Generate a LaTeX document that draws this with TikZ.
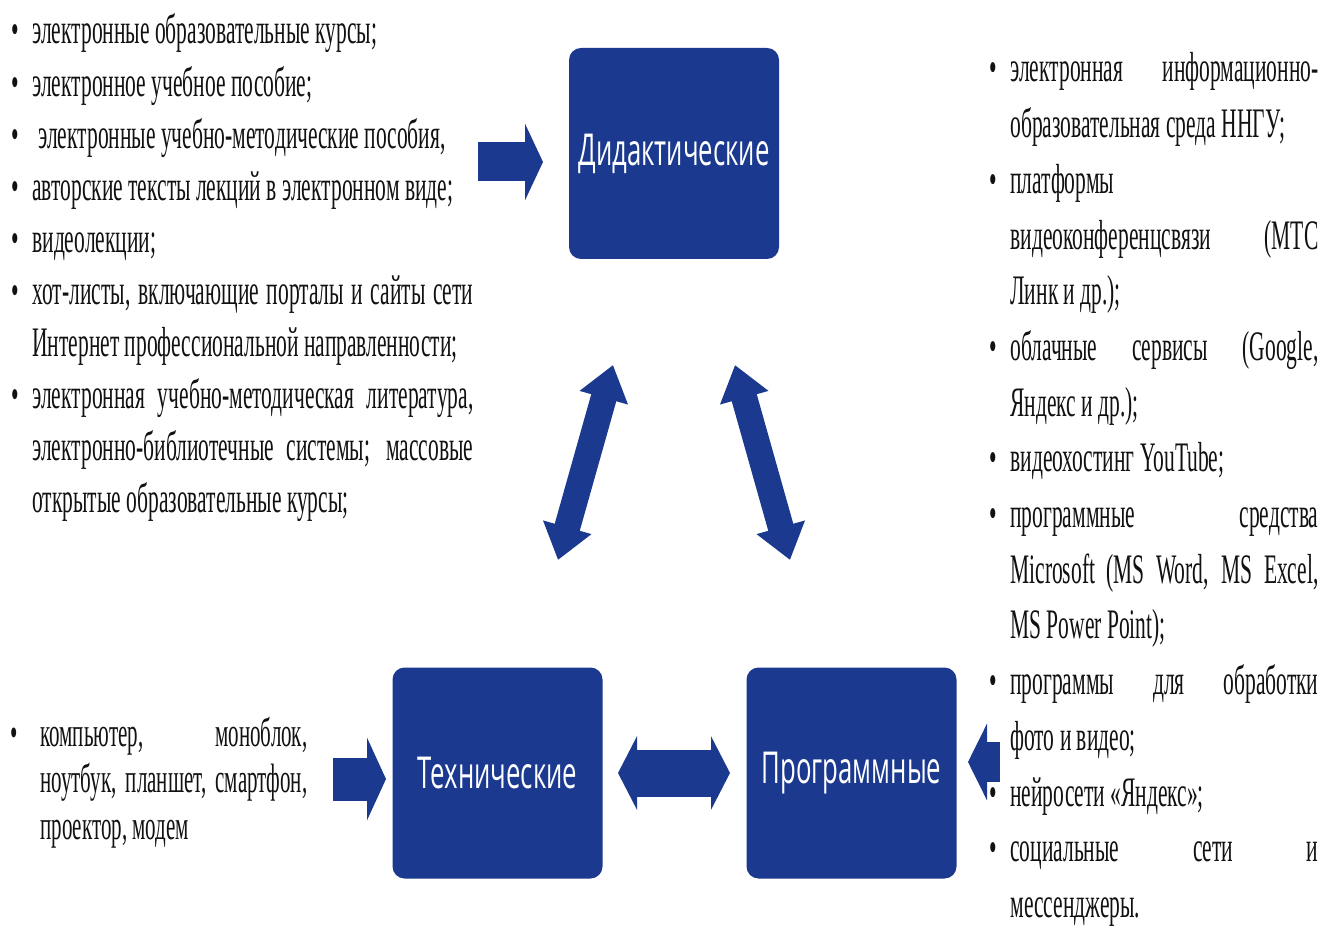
\documentclass[tikz,border=0pt]{standalone}
\usepackage{fontspec}
\setmainfont{Liberation Serif}
\newfontfamily\tnr[FakeStretch=0.512]{Liberation Serif}
\newfontfamily\boxsans[FakeStretch=0.585]{Open Sans}
\usetikzlibrary{arrows.meta}
\definecolor{boxblue}{HTML}{1B3A8F}
\definecolor{txt}{HTML}{111111}
\newcommand\bul{\leavevmode\llap{•\hspace{6.5pt}}}
\newcommand\jl[1]{\makebox[\linewidth][s]{#1}}
\begin{document}
\begin{tikzpicture}[x=0.5pt,y=-0.5pt,
  cat/.style={fill=boxblue, rounded corners=6pt, minimum width=105pt, minimum height=105.5pt,
    inner sep=0pt, text=white, font=\boxsans\fontsize{22}{26}\selectfont},
  txtblock/.style={anchor=base west, inner sep=0pt, text=txt},
  barrow/.style={draw=boxblue, line cap=butt}
]
\fill[white] (0,0) rectangle (1325,929);
\useasboundingbox (0,0) rectangle (1325,929);

% category boxes
\node[cat] (did)  at (674,153.5) {Дидактические};
\node[cat] (tech) at (497.5,773) {Технические};
\node[cat] (prog) at (851.5,773) {Программные};

% arrow end points
\coordinate (a1s) at (478,162);  \coordinate (a1e) at (543,162);
\coordinate (a2s) at (333,779);  \coordinate (a2e) at (386,779);
\coordinate (a3s) at (618,773);  \coordinate (a3e) at (730,773);
\coordinate (a4s) at (1000,762); \coordinate (a4e) at (968,762);
\coordinate (d1s) at (558,560);  \coordinate (d1e) at (613,365);
\coordinate (d2s) at (790,560);  \coordinate (d2e) at (735,365);

\draw[barrow, line width=19.5pt, -{Triangle[length=9pt,width=38pt]}] (a1s) -- (a1e);
\draw[barrow, line width=21.5pt, -{Triangle[length=9.5pt,width=41pt]}] (a2s) -- (a2e);
\draw[barrow, line width=23.5pt, {Triangle[length=9.5pt,width=36.5pt]}-{Triangle[length=9.5pt,width=36.5pt]}] (a3s) -- (a3e);
\draw[barrow, line width=20pt, -{Triangle[length=9.5pt,width=38pt]}] (a4s) -- (a4e);
\draw[barrow, line width=13pt, {Triangle[length=17pt,width=24pt]}-{Triangle[length=17pt,width=24pt]}] (d1s) -- (d1e);
\draw[barrow, line width=13pt, {Triangle[length=17pt,width=24pt]}-{Triangle[length=17pt,width=24pt]}] (d2s) -- (d2e);

% text lists
\node[txtblock] (leftlist) at (32,44) {\parbox[t]{220.5pt}{\tnr\fontsize{21}{26.05}\selectfont
\bul электронные образовательные курсы;\\
\bul электронное учебное пособие;\\
\bul\hspace*{3pt}электронные учебно-методические пособия,\\
\bul авторские тексты лекций в электронном виде;\\
\bul видеолекции;\\
\bul\jl{хот-листы, включающие порталы и сайты сети}\\
Интернет профессиональной направленности;\\
\bul\jl{электронная учебно-методическая литература,}\\
\jl{электронно-библиотечные системы; массовые}\\
открытые образовательные курсы;}};

\node[txtblock] (rightlist) at (1010,82) {\parbox[t]{154pt}{\tnr\fontsize{21}{27.85}\selectfont
\bul\jl{электронная информационно-}\\
образовательная среда ННГУ;\\
\bul платформы\\
\jl{видеоконференцсвязи (МТС}\\
Линк и др.);\\
\bul\jl{облачные сервисы (Google,}\\
Яндекс и др.);\\
\bul видеохостинг YouTube;\\
\bul\jl{программные средства}\\
\jl{Microsoft (MS Word, MS Excel,}\\
MS Power Point);\\
\bul\jl{программы для обработки}\\
фото и видео;\\
\bul нейросети «Яндекс»;\\
\bul\jl{социальные сети и}\\
мессенджеры.}};

\node[txtblock] (techlist) at (40,746) {\parbox[t]{133.5pt}{\tnr\fontsize{20.5}{23.25}\selectfont
\leavevmode\llap{•\hspace{11.5pt}}\jl{компьютер, моноблок,}\\
\jl{ноутбук, планшет, смартфон,}\\
проектор, модем}};
\end{tikzpicture}
\end{document}
